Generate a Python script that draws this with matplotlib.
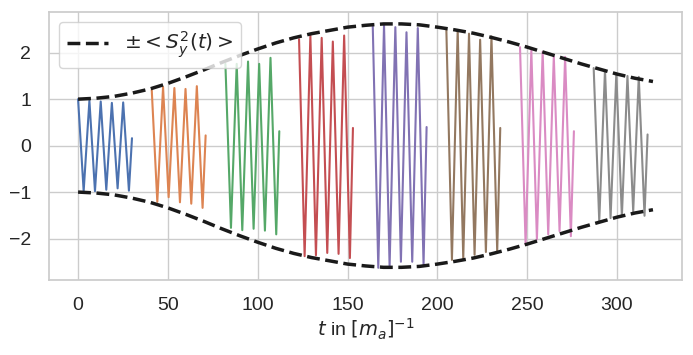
import numpy as np
import matplotlib
matplotlib.use("Agg")
import matplotlib.pyplot as plt
import seaborn as sns

# Envolvente ±<S_y^2(t)>
t_env = [0, 10, 20, 30, 40, 50, 60, 70, 80, 90, 100, 110, 120, 130, 140, 150, 160,
         170, 180, 190, 200, 210, 220, 230, 240, 250, 260, 270, 280, 290, 300, 310, 320]
env = [1.00, 1.02, 1.06, 1.13, 1.22, 1.34, 1.48, 1.63, 1.79, 1.94, 2.08, 2.21, 2.32,
       2.41, 2.48, 2.55, 2.59, 2.62, 2.62, 2.60, 2.55, 2.49, 2.42, 2.33, 2.23, 2.12,
       2.00, 1.88, 1.76, 1.65, 1.54, 1.45, 1.38]

# Inicio de cada tramo y posiciones de los extremos dentro del tramo
seg_start = [0, 41, 82, 123, 164, 205, 246, 287]
ext_offset = [0, 3.1, 6.3, 9.4, 12.6, 15.7, 18.8, 22.0, 25.1, 28.3, 30.0]

# Máximos / mínimos de cada tramo (y el valor final)
seg_vals = [
    [1.00, -0.98, 0.97, -0.98, 0.95, -0.95, 0.92, -0.92, 0.93, -0.97, 0.16],
    [1.20, -1.21, 1.26, -1.11, 1.24, -1.22, 1.22, -1.25, 1.28, -1.34, 0.22],
    [1.76, -1.77, 1.76, -1.82, 1.81, -1.79, 1.76, -1.83, 1.89, -1.91, 0.31],
    [2.29, -2.38, 2.37, -2.36, 2.32, -2.31, 2.24, -2.33, 2.37, -2.42, 0.38],
    [2.62, -2.63, 2.60, -2.60, 2.55, -2.50, 2.44, -2.50, 2.53, -2.56, 0.40],
    [2.49, -2.46, 2.49, -2.43, 2.41, -2.35, 2.28, -2.29, 2.35, -2.28, 0.38],
    [2.12, -2.13, 2.05, -2.02, 2.02, -1.91, 1.92, -1.84, 1.91, -1.95, 0.31],
    [1.67, -1.63, 1.63, -1.56, 1.55, -1.52, 1.50, -1.42, 1.48, -1.51, 0.24],
]

sns.set_theme(style="whitegrid")
plt.rcParams['font.family'] = ['Liberation Sans', 'DejaVu Sans']
plt.rcParams['mathtext.fontset'] = 'dejavusans'

fig = plt.figure(figsize=(6.93, 3.55), dpi=100)
ax = fig.add_axes([0.0712, 0.2113, 0.9125, 0.7557])

colores = sns.color_palette("deep")
for i, (t0, vals) in enumerate(zip(seg_start, seg_vals)):
    t = np.array(ext_offset) + t0
    ax.plot(t, vals, color=colores[i], lw=1.5)

env = np.array(env)
ax.plot(t_env, env, 'k--', lw=2.5, label=r'$\pm < S_y^2(t) >$')
ax.plot(t_env, -env, 'k--', lw=2.5)

ax.set_xlabel(r'$t$ in $[m_a]^{-1}$', fontsize=14, labelpad=2)
ax.tick_params(axis='x', labelsize=14, pad=6)
ax.tick_params(axis='y', labelsize=14, pad=7)
ax.legend(loc='upper left', fontsize=14.5)

fig.savefig("out.png", dpi=100)
